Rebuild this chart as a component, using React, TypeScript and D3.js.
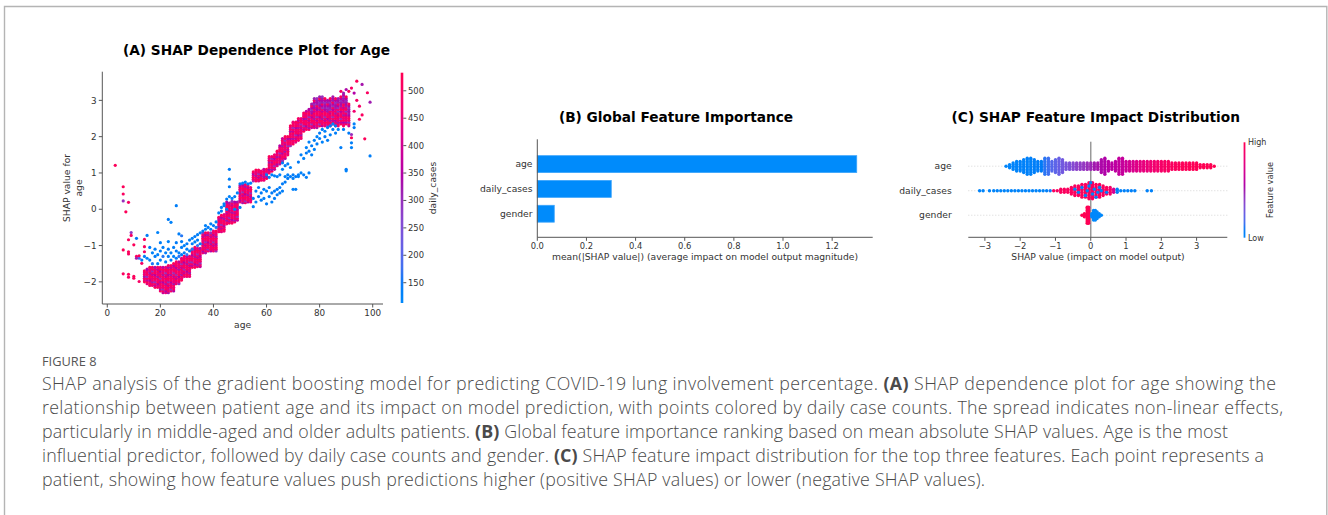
import React from 'react';
import * as d3 from 'd3';

// ---------- Panel A: SHAP dependence for age ----------
// Dense step columns: each integer age carries a column of points between low and high SHAP
const blockAges = [14,15,16,17,18,19,20,21,22,23,24,25,26,27,28,29,30,31,32,33,34,35,36,37,38,39,40,41,42,43,44,45,46,47,48,49,50,51,52,53,54,55,56,57,58,59,60,61,62,63,64,65,66,67,68,69,70,71,72,73,74,75,76,77,78,79,80,81,82,83,84,85,86,87,88,89,90,91];
const blockLow = [-2.0,-2.05,-2.1,-2.1,-2.15,-2.15,-2.25,-2.3,-2.3,-2.3,-2.25,-2.25,-2.05,-2.05,-1.95,-1.85,-1.85,-1.85,-1.6,-1.6,-1.58,-1.58,-1.2,-1.2,-1.15,-1.15,-1.15,-1.15,-0.62,-0.62,-0.6,-0.4,-0.38,-0.38,-0.35,-0.3,0.2,0.18,0.18,0.2,0.2,0.78,0.78,0.78,0.8,0.8,0.85,1.0,1.05,1.1,1.2,1.25,1.3,1.4,1.5,1.75,1.8,1.85,1.9,1.95,2.15,2.2,2.2,2.25,2.25,2.25,2.3,2.3,2.3,2.3,2.3,2.35,2.3,2.3,2.35,2.3,2.35,2.3];
const blockHigh = [-1.7,-1.65,-1.6,-1.6,-1.6,-1.6,-1.6,-1.6,-1.6,-1.55,-1.55,-1.5,-1.45,-1.45,-1.35,-1.3,-1.3,-1.3,-1.1,-1.05,-1.05,-1.05,-0.65,-0.65,-0.62,-0.62,-0.6,-0.6,-0.18,-0.15,-0.15,0.2,0.2,0.22,0.22,0.22,0.65,0.68,0.68,0.65,0.6,1.05,1.08,1.08,1.08,1.1,1.1,1.45,1.45,1.5,1.6,1.75,1.95,2.0,2.0,2.3,2.4,2.4,2.5,2.5,2.65,2.7,2.75,2.9,3.05,3.05,3.1,3.1,3.05,3.0,3.05,3.1,3.05,3.05,3.1,3.15,3.1,2.9];
// daily_cases values cycled through the columns
const blockCases = [520, 470, 505, 330, 490, 440, 525, 380, 500, 300, 480, 515, 460, 350];
// daily_cases of the upper edge of the old-age columns (ages 77+)
const blockTopCases = [330, 300, 360, 520, 320, 340];

// low daily_cases points: [age, shap, daily_cases]
const lowCasePoints: [number, number, number][] = [
  [11,-0.8,150],[15,-0.72,140],[19,-0.64,130],[26,0.1,140],[23,-0.28,150],[24,-0.36,130],[27,-0.68,140],[28,-0.73,160],
  [20,-0.92,140],[23,-0.89,130],[26,-0.92,150],[28,-0.89,140],
  [12,-1.35,170],[13,-1.4,150],[14,-1.3,140],[15,-1.35,130],[16,-1.05,150],[16,-1.4,140],[17,-1.2,130],[17,-1.5,160],[18,-1.1,140],[18,-1.3,150],[19,-1.25,130],[19,-1.5,140],[20,-1.15,150],[20,-1.4,130],[21,-1.05,140],[21,-1.3,160],[22,-1.2,130],[22,-1.45,140],[23,-1.1,150],[23,-1.3,140],[24,-1.2,130],[24,-1.4,150],[25,-1.05,140],[25,-1.3,130],[26,-1.15,150],[26,-1.35,140],[27,-1.2,130],[27,-1.3,160],[28,-1.05,140],[28,-1.25,150],[29,-1.0,130],[29,-1.2,140],[30,-0.95,150],[30,-1.1,130],[30,-1.25,170],[31,-0.85,140],[31,-1.15,150],[32,-0.8,130],[32,-0.95,140],[32,-1.1,160],[33,-0.75,150],[33,-0.9,130],[34,-0.7,140],[34,-0.85,150],[34,-1.0,170],[35,-0.65,130],[35,-0.95,140],[36,-0.6,150],[37,-0.45,130],[37,-0.55,140],[38,-0.5,150],[39,-0.4,130],[39,-0.55,140],[40,-0.45,150],[41,-0.35,130],[41,-0.5,160],
  [42,-0.1,140],[43,0.05,130],[43,-0.05,150],[44,0.1,140],[44,0.15,130],[45,0.0,150],[45,0.28,140],[46,0.35,130],[46,0.62,150],[46,0.83,140],[47,0.3,130],[48,0.35,150],[48,0.0,140],[49,0.45,130],[50,0.05,140],[50,0.7,150],[51,0.72,130],[52,0.75,140],[53,0.7,150],[54,0.72,130],
  [55,0.07,140],[55,0.3,150],[56,0.2,130],[56,0.5,140],[57,0.35,150],[57,0.6,130],[58,0.25,140],[58,0.45,150],[59,0.3,130],[59,0.55,140],[60,0.15,150],[60,0.5,130],[61,0.35,140],[61,0.6,150],[61,0.88,130],[62,0.2,140],[62,0.45,150],[62,0.95,130],[63,0.3,140],[63,0.5,150],[63,0.92,130],[64,0.4,140],[64,0.55,150],[64,0.9,130],[65,0.45,140],[65,0.6,150],[65,0.95,130],[66,0.5,140],[66,0.7,150],[66,1.1,130],[66,1.28,140],[67,0.75,150],[67,0.9,130],[67,1.2,140],[68,0.85,150],[68,0.95,130],[68,1.25,140],[69,0.9,150],[69,1.15,130],[70,0.85,140],[70,0.95,150],[70,0.55,130],[71,0.55,140],[71,0.9,150],[72,0.9,130],[72,0.95,140],[72,1.3,150],[73,1.0,130],[73,1.5,140],[74,0.95,150],[74,1.4,130],[75,0.88,140],[75,1.55,150],[75,1.7,130],[76,1.0,140],[76,1.6,150],[76,1.85,130],
  [77,1.5,140],[77,1.75,150],[78,1.65,130],[78,1.9,140],[79,1.8,150],[79,2.0,130],[80,1.95,140],[80,2.1,150],[81,1.85,130],[81,2.2,140],[82,2.0,150],[82,2.15,130],[83,1.9,140],[83,2.25,150],[84,2.05,130],[84,2.3,140],[85,2.2,150],[85,2.35,130],[86,2.1,140],[86,2.3,150],[87,2.2,130],[88,1.7,140],[89,2.2,150],[90,1.06,130],[90,1.1,140],[91,2.1,150],[92,1.7,130],[92,1.83,140],[93,2.25,150],[93,2.35,130],[99,1.47,140],[46,1.1,150],[60,0.95,140]
];

// isolated high daily_cases points: [age, shap, daily_cases]
const sparsePoints: [number, number, number][] = [
  [3,1.21,520],[6,0.62,520],[6,0.42,510],[6,0.23,300],[7,-0.07,520],[8,0.19,500],
  [6,-1.12,520],[6,-1.78,510],[8,-1.79,520],[8,-1.87,500],[9,-0.64,290],[8,-0.84,510],[9,-0.72,500],[10,-0.98,520],[8,-1.23,500],[8,-1.17,520],[11,-1.3,510],[11,-1.35,320],[12,-1.28,520],[13,-1.49,500],[10,-1.85,520],[10,-1.9,510],[12,-1.99,500],[14,-0.83,520],[14,-1.03,510],[14,-1.17,500],
  [94,3.53,520],[96,3.44,330],[92,3.34,500],[98,3.21,510],[99,2.95,320],[97,1.94,520],[95,2.84,500],[95,2.48,510],[92,2.06,300],[92,1.97,520],[93,3.2,350],[94,3.0,500],[93,2.7,480],[96,2.6,510],[91,3.25,520],[90,3.3,340],[89,3.2,320],[88,3.25,500]
];

const ageTicks = [0, 20, 40, 60, 80, 100];
const shapTicksA = [-2, -1, 0, 1, 2, 3];
const caseTicks = [150, 200, 250, 300, 350, 400, 450, 500];

// ---------- Panel B: global importance ----------
const features = ['age', 'daily_cases', 'gender'];
const meanAbsShap = [1.30, 0.301, 0.069];
const importanceTicks = [0, 0.2, 0.4, 0.6, 0.8, 1.0, 1.2];

// ---------- Panel C: beeswarm ----------
// [shap, stacked layers each side, normalised feature value]
const swarmAge: [number, number, number][] = [
  [-2.4,0,0.02],[-2.3,1,0.02],[-2.2,2,0.03],[-2.1,3,0.03],[-2.0,3,0.04],[-1.9,4,0.04],[-1.8,5,0.05],[-1.7,5,0.05],[-1.6,4,0.06],[-1.5,3,0.07],[-1.4,3,0.08],[-1.3,5,0.12],[-1.2,5,0.15],[-1.1,3,0.2],[-1.0,4,0.22],[-0.9,5,0.25],[-0.8,4,0.28],[-0.7,2,0.3],[-0.6,2,0.32],[-0.5,2,0.35],[-0.4,2,0.38],[-0.3,2,0.4],[-0.2,2,0.42],[-0.1,2,0.45],[0.0,2,0.47],[0.1,2,0.5],[0.2,2,0.52],[0.3,4,0.54],[0.4,5,0.55],[0.5,3,0.57],[0.6,2,0.59],[0.7,3,0.6],[0.8,5,0.62],[0.9,5,0.63],[1.0,3,0.66],[1.1,3,0.69],[1.2,3,0.72],[1.3,3,0.75],[1.4,3,0.78],[1.5,3,0.8],[1.6,3,0.82],[1.7,3,0.85],[1.8,3,0.87],[1.9,3,0.89],[2.0,3,0.9],[2.1,3,0.92],[2.2,3,0.93],[2.3,2,0.94],[2.4,2,0.95],[2.5,2,0.96],[2.6,2,0.97],[2.7,2,0.97],[2.8,2,0.98],[2.9,2,0.98],[3.0,2,0.99],[3.1,1,0.99],[3.2,1,1],[3.3,1,1],[3.4,1,1],[3.5,0,1]
];
const swarmDaily: [number, number, number][] = [
  [-3.15,0,0.03],[-3.05,0,0.03],[-2.87,0,0.03],[-2.75,0,0.03],[-2.65,0,0.03],[-2.55,0,0.03],[-2.45,0,0.03],[-2.35,0,0.03],[-2.25,0,0.03],[-2.15,0,0.03],[-2.05,0,0.03],[-1.95,0,0.03],[-1.85,0,0.03],[-1.75,0,0.03],[-1.65,0,0.03],[-1.55,0,0.03],[-1.45,0,0.03],[-1.35,0,0.03],[-1.25,0,0.05],[-1.15,0,0.1],[-1.05,0,0.95],[-0.95,0,0.95],[-0.85,1,0.95],[-0.75,1,0.95],[-0.65,1,0.95],[-0.55,2,0.95],[-0.45,3,0.95],[-0.35,3,0.95],[-0.25,4,0.95],[-0.15,4,0.95],[-0.05,5,0.95],[0.05,5,0.95],[0.15,4,0.95],[0.25,4,0.95],[0.35,3,0.95],[0.45,2,0.95],[0.55,2,0.9],[0.65,1,0.7],[0.75,1,0.05],[0.85,0,0.05],[0.95,0,0.05],[1.05,0,0.05],[1.15,0,0.05],[1.25,0,0.05],[1.6,0,0.05],[1.72,0,0.05]
];
// low-value daily_cases points inside the central cluster: [shap, layer offset]
const dailyLowInCluster: [number, number][] = [
  [-0.35,1],[-0.25,-2],[-0.15,3],[-0.05,-3],[0.05,2],[0.1,-1],[0.2,1],[0.25,-2],[0.3,0],[0.45,1],[-0.45,-1],[0.15,4],[-0.1,0],[0.0,-5]
];
const swarmGender: [number, number, number][] = [
  [-0.25,0,1],[-0.18,1,1],[-0.1,5,1],[-0.06,5,0.98],[0.03,1,0],[0.08,3,0],[0.13,3,0],[0.18,2,0],[0.24,1,0],[0.3,0,0]
];
const impactTicks = [-3, -2, -1, 0, 1, 2, 3];

// ---------- Caption ----------
const captionLines: { text: string; bold?: boolean }[][] = [
  [{ text: 'SHAP analysis of the gradient boosting model for predicting COVID-19 lung involvement percentage. ' }, { text: '(A)', bold: true }, { text: ' SHAP dependence plot for age showing the' }],
  [{ text: 'relationship between patient age and its impact on model prediction, with points colored by daily case counts. The spread indicates non-linear effects,' }],
  [{ text: 'particularly in middle-aged and older adults patients. ' }, { text: '(B)', bold: true }, { text: ' Global feature importance ranking based on mean absolute SHAP values. Age is the most' }],
  [{ text: 'influential predictor, followed by daily case counts and gender. ' }, { text: '(C)', bold: true }, { text: ' SHAP feature impact distribution for the top three features. Each point represents a' }],
  [{ text: 'patient, showing how feature values push predictions higher (positive SHAP values) or lower (negative SHAP values).' }],
];
// set width of each caption line
const captionWidths = [1234, 1241, 1186, 1222, 943];

// SHAP's red-blue map: LCh interpolation from blue to red with a darker middle
function redBlue(t: number): string {
  const u = Math.max(0, Math.min(1, t));
  const L = u < 0.5 ? 54 - 28 * u : 40 + 28 * (u - 0.5);
  const C = 70 + 20 * u;
  const h = 266.93 + 113.39 * u;
  return d3.hcl(h, C, L).formatHex();
}

const FONT = 'DejaVu Sans, sans-serif';
const TXT = '#333333';
const AX = '#555555';
const fmtInt = d3.format('d');
const fmt1 = d3.format('.1f');

export default function App() {
  // Panel A scales
  const xA = d3.scaleLinear().domain([-1.8, 103.8]).range([102.5, 382.8]);
  const yA = d3.scaleLinear().domain([-2.61, 3.79]).range([304, 71.7]);
  const caseNorm = d3.scaleLinear().domain([113, 533]).range([0, 1]).clamp(true);
  const yCbA = d3.scaleLinear().domain([113, 533]).range([303, 72.7]);

  const blockDots: { a: number; s: number; c: number }[] = [];
  blockAges.forEach((age, i) => {
    let k = 0;
    for (let v = blockLow[i]; v <= blockHigh[i] + 1e-9; v += 0.05, k++) {
      const nearTop = age >= 77 && blockHigh[i] - v < 0.28;
      const c = nearTop
        ? blockTopCases[(i * 3 + k) % blockTopCases.length]
        : blockCases[(i * 5 + k) % blockCases.length];
      blockDots.push({ a: age, s: v, c });
    }
  });

  // Panel B scales
  const xB = d3.scaleLinear().domain([0, 1.365]).range([537.3, 872.7]);
  const yB = d3.scaleLinear().domain([-0.95, 3]).range([237.3, 139.3]);
  const barH = Math.abs(yB(0.34) - yB(-0.34));

  // Panel C scales
  const xC = d3.scaleLinear().domain([-3.47, 3.87]).range([968.3, 1227.3]);
  const yC = d3.scaleLinear().domain([-0.9, 3]).range([237.3, 141.7]);
  const layerGap = 1.6;

  const swarmDots: { x: number; y: number; col: string }[] = [];
  const addSwarm = (rows: [number, number, number][], row: number) => {
    rows.forEach(([s, n, v]) => {
      const offs = [0];
      for (let k = 1; k <= n; k++) offs.push(k, -k);
      offs.forEach((o) => swarmDots.push({ x: xC(s), y: yC(row) + o * layerGap, col: redBlue(v) }));
    });
  };
  addSwarm(swarmAge, 2);
  addSwarm(swarmDaily, 1);
  dailyLowInCluster.forEach(([s, o]) => swarmDots.push({ x: xC(s), y: yC(1) + o * layerGap, col: redBlue(0.04) }));
  addSwarm(swarmGender, 0);

  const gradStops = d3.range(0, 1.0001, 0.05);

  return (
    <svg width={1328} height={515} style={{ position: 'absolute', left: 0, top: 0, background: '#fff' }} fontFamily={FONT}>
      <defs>
        <linearGradient id="rb" x1="0" y1="1" x2="0" y2="0">
          {gradStops.map((t) => (
            <stop key={t} offset={t} stopColor={redBlue(t)} />
          ))}
        </linearGradient>
      </defs>
      <rect x={0} y={0} width={1328} height={515} fill="#fff" />
      {/* frame */}
      <path d="M4.5,516 V6.5 H1326.8 V516" fill="none" stroke="#b4b4b4" strokeWidth={1.4} />

      {/* ===== Panel A ===== */}
      <text x={256.5} y={55} textAnchor="middle" fontSize={13.7} fontWeight="bold" fill="#000">(A) SHAP Dependence Plot for Age</text>
      <g>
        {blockDots.map((d, i) => (
          <circle key={'b' + i} cx={xA(d.a)} cy={yA(d.s)} r={1.6} fill={redBlue(caseNorm(d.c))} />
        ))}
        {lowCasePoints.map(([a, s, c], i) => (
          <circle key={'l' + i} cx={xA(a)} cy={yA(s)} r={1.6} fill={redBlue(caseNorm(c))} />
        ))}
        {sparsePoints.map(([a, s, c], i) => (
          <circle key={'s' + i} cx={xA(a)} cy={yA(s)} r={1.6} fill={redBlue(caseNorm(c))} />
        ))}
      </g>
      <line x1={102.3} x2={102.3} y1={71.7} y2={304} stroke={AX} strokeWidth={1} />
      <line x1={102.3} x2={383} y1={304} y2={304} stroke={AX} strokeWidth={1} />
      {ageTicks.map((t) => (
        <g key={'xa' + t}>
          <line x1={xA(t)} x2={xA(t)} y1={304} y2={307.5} stroke={AX} />
          <text x={xA(t)} y={316} textAnchor="middle" fontSize={8.8} fill={TXT}>{fmtInt(t)}</text>
        </g>
      ))}
      {shapTicksA.map((t) => (
        <g key={'ya' + t}>
          <line x1={98.8} x2={102.3} y1={yA(t)} y2={yA(t)} stroke={AX} />
          <text x={96.5} y={yA(t) + 3.2} textAnchor="end" fontSize={8.8} fill={TXT}>{fmtInt(t)}</text>
        </g>
      ))}
      <text x={242.6} y={328} textAnchor="middle" fontSize={9.2} fill={TXT}>age</text>
      <text transform="translate(70,188) rotate(-90)" textAnchor="middle" fontSize={9.2} fill={TXT}>SHAP value for</text>
      <text transform="translate(81.5,188) rotate(-90)" textAnchor="middle" fontSize={9.2} fill={TXT}>age</text>
      {/* colorbar A */}
      <rect x={400.7} y={72.7} width={2.6} height={230.3} fill="url(#rb)" />
      {caseTicks.map((t) => (
        <g key={'cb' + t}>
          <line x1={403.3} x2={406.3} y1={yCbA(t)} y2={yCbA(t)} stroke={AX} />
          <text x={408} y={yCbA(t) + 3} fontSize={8.4} fill={TXT}>{t}</text>
        </g>
      ))}
      <text transform="translate(435.5,188) rotate(-90)" textAnchor="middle" fontSize={9.2} fill={TXT}>daily_cases</text>

      {/* ===== Panel B ===== */}
      <text x={676} y={121.7} textAnchor="middle" fontSize={13.7} fontWeight="bold" fill="#000">(B) Global Feature Importance</text>
      {features.map((f, i) => {
        const pos = features.length - 1 - i;
        return (
          <g key={'bar' + f}>
            <rect x={xB(0)} y={yB(pos) - barH / 2} width={xB(meanAbsShap[i]) - xB(0)} height={barH} fill="#008bfb" stroke="#3aa3fb" strokeWidth={0.8} />
            <text x={532.5} y={yB(pos) + 3.2} textAnchor="end" fontSize={9.2} fill={TXT}>{f}</text>
          </g>
        );
      })}
      <line x1={537.3} x2={537.3} y1={139.3} y2={237.3} stroke={AX} />
      <line x1={537.3} x2={872.7} y1={237.3} y2={237.3} stroke={AX} />
      {importanceTicks.map((t) => (
        <g key={'xb' + t}>
          <line x1={xB(t)} x2={xB(t)} y1={237.3} y2={240.8} stroke={AX} />
          <text x={xB(t)} y={249.3} textAnchor="middle" fontSize={8.4} fill={TXT}>{fmt1(t)}</text>
        </g>
      ))}
      <text x={705} y={260} textAnchor="middle" fontSize={9.2} fill={TXT}>mean(|SHAP value|) (average impact on model output magnitude)</text>

      {/* ===== Panel C ===== */}
      <text x={1095.8} y={121.7} textAnchor="middle" fontSize={13.7} fontWeight="bold" fill="#000">(C) SHAP Feature Impact Distribution</text>
      {features.map((f, i) => {
        const pos = features.length - 1 - i;
        return (
          <g key={'row' + f}>
            <line x1={968.3} x2={1227.3} y1={yC(pos)} y2={yC(pos)} stroke="#cccccc" strokeWidth={0.8} strokeDasharray="1,2" />
            <text x={951.7} y={yC(pos) + 3.2} textAnchor="end" fontSize={9.2} fill={TXT}>{f}</text>
          </g>
        );
      })}
      <line x1={xC(0)} x2={xC(0)} y1={141.7} y2={237.3} stroke="#999999" strokeWidth={1.5} />
      {swarmDots.map((d, i) => (
        <circle key={'sw' + i} cx={d.x} cy={d.y} r={1.7} fill={d.col} />
      ))}
      <line x1={968.3} x2={1227.3} y1={237.3} y2={237.3} stroke={AX} />
      {impactTicks.map((t) => (
        <g key={'xc' + t}>
          <line x1={xC(t)} x2={xC(t)} y1={237.3} y2={240.8} stroke={AX} />
          <text x={xC(t)} y={248.5} textAnchor="middle" fontSize={8.4} fill={TXT}>{fmtInt(t)}</text>
        </g>
      ))}
      <text x={1098} y={260} textAnchor="middle" fontSize={9.2} fill={TXT}>SHAP value (impact on model output)</text>
      {/* colorbar C */}
      <rect x={1243.6} y={142.3} width={1.8} height={95.4} fill="url(#rb)" />
      <text x={1248} y={145.3} fontSize={8} fill={TXT}>High</text>
      <text x={1248} y={240.7} fontSize={8} fill={TXT}>Low</text>
      <text transform="translate(1272.5,190) rotate(-90)" textAnchor="middle" fontSize={8.2} fill={TXT}>Feature value</text>

      {/* ===== Caption ===== */}
      <text x={42} y={366} fontFamily="'Open Sans', sans-serif" fontSize={12.8} fill="#555">FIGURE 8</text>
      {captionLines.map((line, i) => (
        <text key={'cap' + i} x={42} y={390 + i * 24} fontFamily="'Open Sans', sans-serif" fontSize={17.8} fontWeight={300} fill="#4a4a4a"
          textLength={captionWidths[i]} lengthAdjust="spacing">
          {line.map((seg, j) => (
            <tspan key={j} fontWeight={seg.bold ? 'bold' : 300}>{seg.text}</tspan>
          ))}
        </text>
      ))}
    </svg>
  );
}
